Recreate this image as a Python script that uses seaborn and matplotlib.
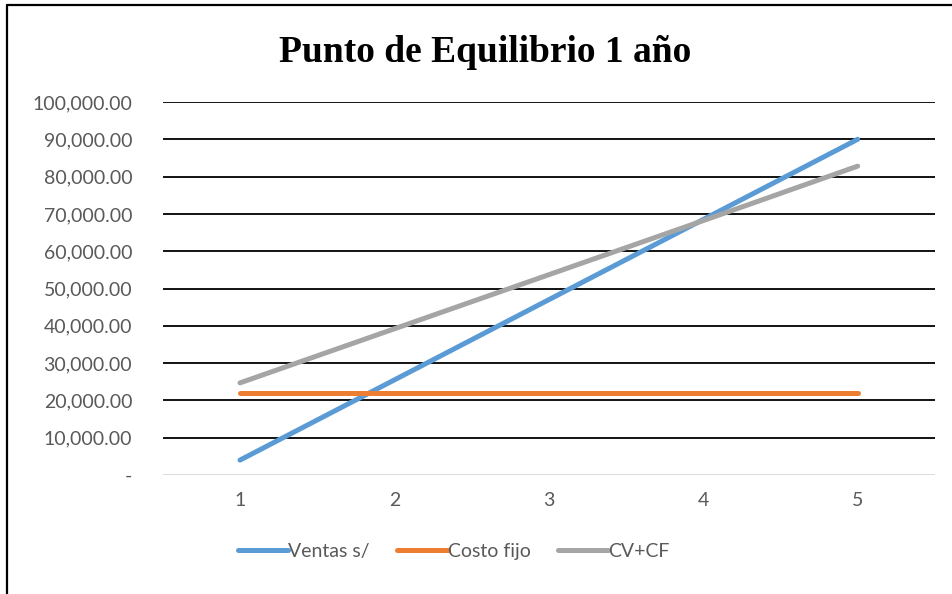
import pandas as pd
import seaborn as sns
import matplotlib.pyplot as plt
from matplotlib.lines import Line2D
from matplotlib.ticker import FuncFormatter

# data
periodos = [1, 2, 3, 4, 5]
ventas = [4000, 25500, 47000, 68500, 90000]
costo_fijo = [22000, 22000, 22000, 22000, 22000]
cv_cf = [24700, 39200, 53700, 68200, 82800]
series_names = ['Ventas s/', 'Costo fijo', 'CV+CF']
colors = ['#5B9BD5', '#ED7D31', '#A5A5A5']

df = pd.DataFrame({
    'periodo': periodos * 3,
    'valor': ventas + costo_fijo + cv_cf,
    'serie': [s for s in series_names for _ in periodos],
})

sns.set_style('white')
plt.rcParams['font.family'] = ['Lato', 'DejaVu Sans']

fig = plt.figure(figsize=(9.52, 5.94), dpi=100)
ax = fig.add_axes([0.171, 0.2003, 0.811, 0.628])

sns.lineplot(data=df, x='periodo', y='valor', hue='serie', palette=colors,
             linewidth=3.6, ax=ax, solid_capstyle='round', legend=True)

ax.set_xlim(0.5, 5.5)
ax.set_ylim(0, 100000)
ax.set_yticks(range(0, 100001, 10000))
ax.set_xticks(periodos)
ax.yaxis.set_major_formatter(FuncFormatter(lambda v, p: '-' if v == 0 else f'{v:,.2f}'))

# gridlines
for v in range(10000, 100001, 10000):
    ax.axhline(v, color='black', linewidth=1.3, zorder=0)
ax.axhline(0, color='#D9D9D9', linewidth=1.3, zorder=0)

for s in ax.spines.values():
    s.set_visible(False)
ax.tick_params(axis='both', length=0, labelsize=14, labelcolor='#595959')
ax.tick_params(axis='y', pad=22)
ax.tick_params(axis='x', pad=12)
ax.set_xlabel('')
ax.set_ylabel('')

ax.legend(loc='upper center', bbox_to_anchor=(0.377, -0.135), ncol=3, frameon=False,
          fontsize=14, labelcolor='#595959', handlelength=2.6, handletextpad=0.0,
          columnspacing=1.4)

fig.text(0.51, 0.912, 'Punto de Equilibrio 1 año', ha='center', va='center',
         fontsize=27, fontweight='bold', family='Liberation Serif', color='black')

# outer frame: only top and left edges are visible in the reference
fig.add_artist(Line2D([0.0075, 1.0], [0.991, 0.991], transform=fig.transFigure,
                      color='black', linewidth=1.6))
fig.add_artist(Line2D([0.0075, 0.0075], [0.0, 0.991], transform=fig.transFigure,
                      color='black', linewidth=1.6))

fig.savefig('out.png', dpi=100)
